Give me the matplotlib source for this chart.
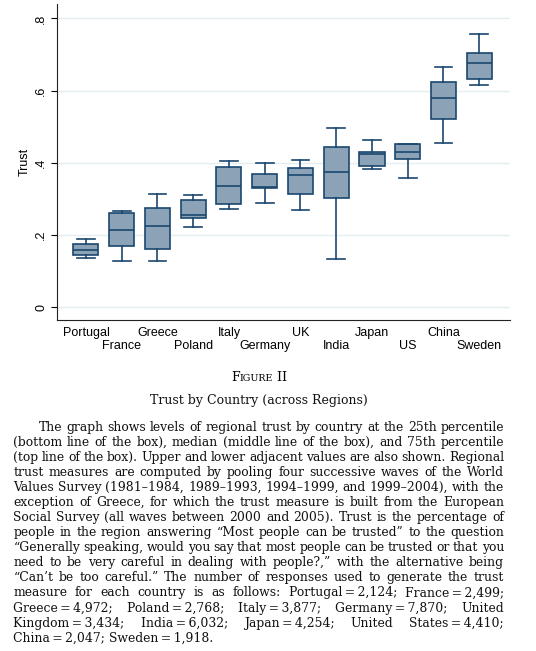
import matplotlib
matplotlib.use('Agg')
import matplotlib.pyplot as plt

# values
countries = ['Portugal', 'France', 'Greece', 'Poland', 'Italy', 'Germany',
             'UK', 'India', 'Japan', 'US', 'China', 'Sweden']
whislo = [0.136, 0.128, 0.127, 0.221, 0.271, 0.287, 0.268, 0.134, 0.383, 0.358, 0.454, 0.615]
q1     = [0.144, 0.169, 0.160, 0.248, 0.285, 0.330, 0.314, 0.303, 0.392, 0.409, 0.521, 0.632]
med    = [0.158, 0.213, 0.225, 0.254, 0.336, 0.332, 0.366, 0.374, 0.425, 0.429, 0.579, 0.676]
q3     = [0.174, 0.261, 0.275, 0.297, 0.389, 0.369, 0.386, 0.443, 0.431, 0.453, 0.624, 0.704]
whishi = [0.188, 0.265, 0.314, 0.310, 0.405, 0.399, 0.408, 0.496, 0.462, 0.453, 0.665, 0.756]

yticks = [0, 0.2, 0.4, 0.6, 0.8]
ytick_labels = ['0', '.2', '.4', '.6', '.8']

fig_title = 'Trust by Country (across Regions)'
note = [
    'The graph shows levels of regional trust by country at the 25th percentile',
    '(bottom line of the box), median (middle line of the box), and 75th percentile',
    '(top line of the box). Upper and lower adjacent values are also shown. Regional',
    'trust measures are computed by pooling four successive waves of the World',
    'Values Survey (1981\u20131984, 1989\u20131993, 1994\u20131999, and 1999\u20132004), with the',
    'exception of Greece, for which the trust measure is built from the European',
    'Social Survey (all waves between 2000 and 2005). Trust is the percentage of',
    'people in the region answering \u201cMost people can be trusted\u201d to the question',
    '\u201cGenerally speaking, would you say that most people can be trusted or that you',
    'need to be very careful in dealing with people?,\u201d with the alternative being',
    '\u201cCan\u2019t be too careful.\u201d The number of responses used to generate the trust',
    'measure for each country is as follows: Portugal\u2009=\u20092,124; France\u2009=\u20092,499;',
    'Greece\u2009=\u20094,972; Poland\u2009=\u20092,768; Italy\u2009=\u20093,877; Germany\u2009=\u20097,870; United',
    'Kingdom\u2009=\u20093,434; India\u2009=\u20096,032; Japan\u2009=\u20094,254; United States\u2009=\u20094,410;',
    'China\u2009=\u20092,047; Sweden\u2009=\u20091,918.',
]

W, H = 536, 651
fig = plt.figure(figsize=(W / 100, H / 100), dpi=100)
ax = fig.add_axes([57 / W, 1 - 320 / H, (510 - 57) / W, (320 - 4) / H])

navy = '#1a476f'
stats = []
for i in range(len(countries)):
    stats.append({'label': countries[i], 'whislo': whislo[i], 'q1': q1[i], 'med': med[i],
                  'q3': q3[i], 'whishi': whishi[i], 'fliers': []})
pos = list(range(1, len(countries) + 1))
ax.bxp(stats, positions=pos, widths=0.7, capwidths=0.5, patch_artist=True,
       boxprops=dict(facecolor='#8ca2b7', edgecolor=navy, linewidth=1.2),
       medianprops=dict(color=navy, linewidth=1.2),
       whiskerprops=dict(color=navy, linewidth=1.2),
       capprops=dict(color=navy, linewidth=1.2))

ax.set_xlim(0.19, 12.86)
ax.set_ylim(-0.036, 0.84)
for yv in yticks:
    ax.axhline(yv, color='#e4eef0', linewidth=1.0, zorder=0)

ax.spines['top'].set_visible(False)
ax.spines['right'].set_visible(False)
ax.spines['left'].set_color('#222222')
ax.spines['bottom'].set_color('#222222')

ax.set_yticks(yticks)
ax.set_yticklabels(ytick_labels, rotation=90, va='center', fontsize=9, family='Liberation Sans')
ax.tick_params(axis='y', length=4, width=0.8, pad=3)
ax.set_ylabel('Trust', fontsize=9, family='Liberation Sans', labelpad=3)

# staggered country names, two rows
ax.set_xticks(pos)
ax.set_xticklabels([])
ax.tick_params(axis='x', length=0)
for i, c in enumerate(countries):
    off = -5 if i % 2 == 0 else -14.5
    ax.annotate(c, xy=(pos[i], 0), xycoords=('data', 'axes fraction'),
                xytext=(0, off), textcoords='offset points', ha='center', va='top',
                fontsize=9, family='Liberation Sans')

# caption, justified word by word
renderer = fig.canvas.get_renderer()
serif = 'DejaVu Serif'
fs = 8.9


def width(t):
    return t.get_window_extent(renderer=renderer).width


def put_line(line, y, x0, x1, justify):
    words = line.split(' ')
    texts = [fig.text(0, 0, w, fontsize=fs, family=serif, va='baseline', color='#111111')
             for w in words]
    ws = [width(t) for t in texts]
    if justify and len(words) > 1:
        gap = (x1 - x0 - sum(ws)) / (len(words) - 1)
    else:
        gap = fs * 100 / 72 * 0.32
    x = x0
    for t, w in zip(texts, ws):
        t.set_position((x / W, 1 - y / H))
        x += w + gap


# small caps "FIGURE II"
parts = [('F', 9.0), ('IGURE', 6.8), (' II', 9.0)]
pt = [fig.text(0, 0, s, fontsize=z, family=serif, va='baseline') for s, z in parts]
tot = sum(width(t) for t in pt)
x = 259 - tot / 2
for t in pt:
    t.set_position((x / W, 1 - 380.7 / H))
    x += width(t)

fig.text(259 / W, 1 - 404.3 / H, fig_title, fontsize=9.0, family=serif, ha='center',
         va='baseline', color='#111111')

for i, line in enumerate(note):
    y = 430.7 + 15.07 * i
    x0 = 38.4 if i == 0 else 13.3
    put_line(line, y, x0, 504, i < len(note) - 1)

fig.savefig('out.png', dpi=100)
